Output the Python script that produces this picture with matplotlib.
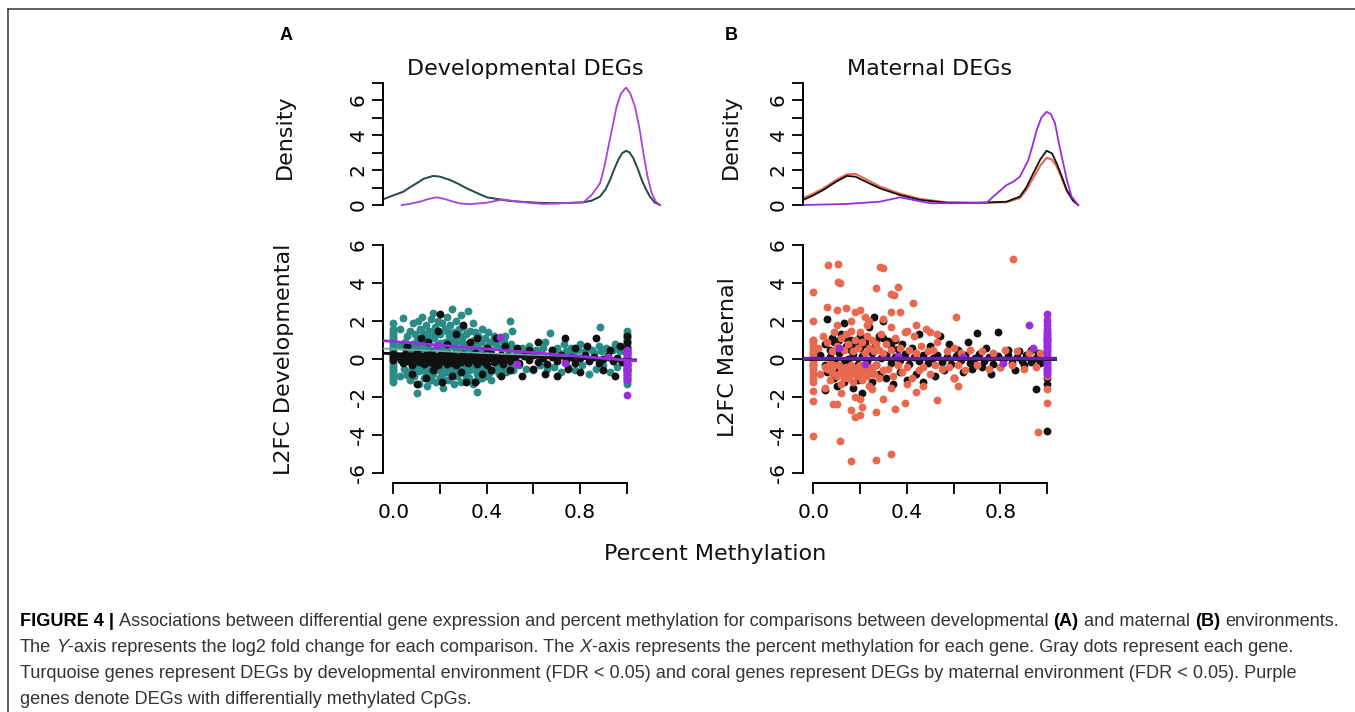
import matplotlib
matplotlib.use("Agg")
import matplotlib.pyplot as plt
from matplotlib import font_manager
from matplotlib.lines import Line2D

# ---------------- data ----------------
# density curves (x = percent methylation, y = density)
dens_a_dark_x = [-0.043, 0.0, 0.043, 0.07, 0.1, 0.13, 0.171, 0.2, 0.243, 0.28, 0.315, 0.4, 0.5, 0.615, 0.7,
                 0.814, 0.85, 0.886, 0.91, 0.929, 0.947, 0.964, 0.98, 0.997, 1.013, 1.029, 1.047, 1.065,
                 1.083, 1.1, 1.12, 1.143]
dens_a_dark_y = [0.33, 0.55, 0.76, 1.0, 1.24, 1.5, 1.66, 1.62, 1.43, 1.2, 0.95, 0.44, 0.23, 0.13, 0.1,
                 0.15, 0.25, 0.48, 0.9, 1.43, 2.05, 2.57, 2.95, 3.1, 3.0, 2.67, 2.1, 1.43,
                 0.9, 0.48, 0.15, 0.0]
dens_a_purple_x = [0.036, 0.07, 0.114, 0.15, 0.186, 0.22, 0.257, 0.29, 0.329, 0.4, 0.471, 0.543, 0.643,
                   0.729, 0.814, 0.85, 0.886, 0.905, 0.922, 0.94, 0.957, 0.975, 0.997, 1.015, 1.036, 1.055,
                   1.072, 1.09, 1.108, 1.125, 1.143]
dens_a_purple_y = [0.0, 0.06, 0.19, 0.34, 0.44, 0.34, 0.19, 0.08, 0.05, 0.13, 0.32, 0.17, 0.06,
                   0.1, 0.15, 0.57, 1.24, 2.2, 3.33, 4.5, 5.62, 6.35, 6.71, 6.4, 5.62, 4.4,
                   2.95, 1.6, 0.67, 0.2, 0.0]

dens_b_x = [-0.043, 0.0, 0.043, 0.1, 0.143, 0.18, 0.214, 0.25, 0.285, 0.37, 0.456, 0.57, 0.712, 0.826,
            0.883, 0.91, 0.94, 0.97, 0.997, 1.02, 1.04, 1.06, 1.083, 1.11, 1.132]
dens_b_black_y = [0.29, 0.55, 0.86, 1.35, 1.66, 1.62, 1.4, 1.17, 0.95, 0.57, 0.29, 0.13, 0.13, 0.19,
                  0.48, 1.0, 1.81, 2.6, 3.1, 2.95, 2.38, 1.7, 0.86, 0.25, 0.0]
dens_b_coral_y = [0.4, 0.65, 0.95, 1.45, 1.75, 1.78, 1.55, 1.3, 1.05, 0.65, 0.35, 0.15, 0.12, 0.16,
                  0.4, 0.85, 1.55, 2.25, 2.7, 2.6, 2.2, 1.6, 0.8, 0.25, 0.0]
dens_b_purple_x = [-0.043, 0.143, 0.285, 0.37, 0.427, 0.499, 0.598, 0.741, 0.769, 0.826, 0.855, 0.883,
                   0.919, 0.937, 0.955, 0.975, 0.997, 1.015, 1.033, 1.05, 1.068, 1.086, 1.104, 1.132]
dens_b_purple_y = [0.0, 0.06, 0.19, 0.44, 0.29, 0.1, 0.1, 0.13, 0.48, 1.14, 1.33, 1.62,
                   2.57, 3.4, 4.29, 5.0, 5.33, 5.2, 4.67, 3.5, 2.38, 1.3, 0.48, 0.0]

# panel A scatter: (percent methylation, L2FC developmental)
teal_a = [(0.03, 1.6), (0.03, -0.9), (0.03, 0.7), (0.043, 2.14), (0.045, -0.5), (0.05, 0.9),
          (0.06, 1.2), (0.06, -0.7), (0.065, 0.5), (0.07, -1.1), (0.07, 1.5), (0.08, 0.8), (0.08, -0.4),
          (0.085, 1.9), (0.09, -0.9), (0.09, 0.6), (0.095, 1.3), (0.10, -1.77), (0.10, 1.0), (0.10, -0.6),
          (0.105, 2.0), (0.11, 0.4), (0.11, -1.3), (0.115, 1.6), (0.12, -0.5), (0.12, 0.9), (0.125, 2.2),
          (0.13, -1.0), (0.13, 1.3), (0.135, 0.6), (0.14, -0.7), (0.14, 1.8), (0.145, -1.4), (0.15, 0.8),
          (0.15, -0.4), (0.155, 1.5), (0.16, -1.1), (0.16, 2.1), (0.165, 0.5), (0.17, 2.44), (0.17, -0.8),
          (0.175, 1.1), (0.18, -0.5), (0.18, 1.7), (0.185, -1.2), (0.19, 0.7), (0.19, 2.0), (0.195, -0.6),
          (0.2, 1.3), (0.2, -1.0), (0.205, 0.5), (0.21, 1.9), (0.21, -0.4), (0.215, -1.5), (0.22, 0.9),
          (0.22, 1.6), (0.225, -0.7), (0.23, 2.2), (0.23, 0.4), (0.235, -1.1), (0.24, 1.2), (0.24, -0.5),
          (0.245, 1.8), (0.25, 2.63), (0.25, -0.8), (0.255, 0.7), (0.26, 1.4), (0.26, -1.3), (0.265, -0.4),
          (0.27, 2.0), (0.27, 0.9), (0.275, -0.9), (0.28, 1.6), (0.28, -0.6), (0.285, 0.5), (0.29, 2.3),
          (0.29, -1.2), (0.295, 1.1), (0.3, -0.5), (0.3, 1.7), (0.305, 0.6), (0.31, -0.9), (0.31, 1.3),
          (0.315, -0.4), (0.32, 2.52), (0.32, 0.8), (0.325, -1.0), (0.33, 1.5), (0.33, -0.6), (0.335, 0.5),
          (0.34, 1.9), (0.34, -1.3), (0.345, 1.0), (0.35, -0.5), (0.35, 1.4), (0.357, -1.72), (0.36, 0.7),
          (0.36, -0.8), (0.365, 1.2), (0.37, -0.4), (0.375, 0.9), (0.38, 1.6), (0.38, -1.0), (0.385, 0.5),
          (0.39, -0.6), (0.395, 1.1), (0.4, -0.9), (0.4, 0.7), (0.405, 1.4), (0.41, -0.5), (0.415, 0.9),
          (0.42, -1.1), (0.42, 0.5), (0.43, 1.2), (0.43, -0.6), (0.44, 0.8), (0.445, -0.4), (0.45, 1.0),
          (0.455, -0.8), (0.46, 0.6), (0.47, -0.5), (0.475, 0.9), (0.48, 1.2), (0.485, -0.7), (0.49, 0.5),
          (0.5, 2.0), (0.5, -0.4), (0.505, 0.8), (0.51, 1.5), (0.515, -0.6), (0.52, 0.5), (0.53, 0.3),
          (0.54, -0.3), (0.55, 0.6), (0.56, 0.4), (0.57, -0.5), (0.58, 0.7), (0.59, 0.3), (0.6, -0.6),
          (0.61, 0.5), (0.62, 0.4), (0.63, -0.3), (0.64, 0.6), (0.65, 0.9), (0.66, -0.5), (0.67, 1.37),
          (0.68, 0.5), (0.69, -0.4), (0.7, 0.6), (0.71, 0.3), (0.72, -0.7), (0.73, 0.8), (0.74, 0.4),
          (0.75, -0.4), (0.76, 0.6), (0.77, 0.3), (0.78, -0.6), (0.79, 0.5), (0.8, 0.8), (0.81, -0.3),
          (0.82, 0.4), (0.83, 0.6), (0.84, -0.8), (0.85, 0.5), (0.86, 0.3), (0.87, -0.5), (0.88, 0.7),
          (0.886, 1.67), (0.89, 0.4), (0.9, -0.3), (0.91, 0.6), (0.92, 0.3), (0.93, -0.7), (0.94, 0.5),
          (0.95, 0.8), (0.96, -0.4), (0.97, 0.4), (0.98, 0.6),
          (0.07, 0.35), (0.12, 0.45), (0.17, 0.35), (0.22, 0.55), (0.27, 0.4), (0.32, 0.45), (0.37, 0.35),
          (0.09, -0.35), (0.14, -0.45), (0.19, -0.35), (0.24, -0.4), (0.29, -0.35), (0.34, -0.4), (0.39, -0.35),
          (0.05, 0.6), (0.1, 0.75), (0.15, 1.15), (0.2, 0.85), (0.25, 1.05), (0.3, 0.85), (0.35, 0.65),
          (0.06, -0.85), (0.11, -0.65), (0.16, -0.75), (0.21, -0.85), (0.26, -0.6), (0.31, -0.65),
          (0.36, -1.1), (0.41, -0.75), (0.46, -0.45), (0.12, 1.55), (0.18, 1.3), (0.23, 1.45), (0.28, 1.25)]
teal_a_col0 = [-1.2, -1.1, -1.0, -0.9, -0.8, -0.7, -0.6, -0.5, -0.4, -0.3, -0.2, -0.1, 0.0, 0.1, 0.2,
               0.3, 0.4, 0.5, 0.6, 0.7, 0.8, 0.9, 1.0, 1.1, 1.2, 1.3, 1.4, 1.6, 1.9]
teal_a_col1 = [-1.3, -1.2, -1.1, -1.0, -0.9, -0.8, -0.7, -0.6, -0.5, -0.4, -0.3, -0.2, -0.1, 0.0, 0.1,
               0.2, 0.3, 0.4, 0.5, 0.6, 0.7, 0.8, 0.9, 1.0, 1.1, 1.2, 1.3, 1.5]
black_a = [(0.03, 0.1), (0.04, -0.2), (0.05, 0.25), (0.06, -0.1), (0.07, 0.15), (0.08, -0.3), (0.09, 0.05),
           (0.1, 0.3), (0.11, -0.15), (0.12, 0.1), (0.13, -0.25), (0.14, 0.2), (0.15, -0.05), (0.16, 0.3),
           (0.17, -0.2), (0.18, 0.1), (0.19, -0.3), (0.2, 0.2), (0.21, -0.1), (0.22, 0.05), (0.23, -0.25),
           (0.24, 0.25), (0.25, -0.05), (0.26, 0.15), (0.27, -0.3), (0.28, 0.1), (0.29, -0.15), (0.3, 0.25),
           (0.31, 0.0), (0.32, -0.2), (0.33, 0.15), (0.34, -0.05), (0.35, 0.3), (0.36, -0.25), (0.37, 0.1),
           (0.38, -0.1), (0.39, 0.2), (0.4, -0.3), (0.41, 0.05), (0.42, 0.25), (0.43, -0.15), (0.44, 0.1),
           (0.45, -0.05), (0.46, 0.2), (0.47, -0.25), (0.48, 0.0), (0.49, 0.15), (0.5, -0.1), (0.52, 0.1),
           (0.54, -0.2), (0.56, 0.15), (0.58, -0.05), (0.6, 0.2), (0.62, -0.15), (0.64, 0.05), (0.66, -0.25),
           (0.68, 0.1), (0.7, -0.1), (0.72, 0.2), (0.74, -0.05), (0.76, 0.1), (0.78, -0.2), (0.8, 0.05),
           (0.82, 0.2), (0.84, -0.1), (0.86, 0.1), (0.88, -0.2), (0.9, 0.0), (0.92, 0.15), (0.94, -0.1),
           (0.96, 0.05), (0.98, -0.15),
           (0.035, -0.05), (0.055, 0.05), (0.075, -0.15), (0.095, 0.2), (0.115, 0.0), (0.135, 0.1),
           (0.155, -0.15), (0.175, 0.15), (0.195, 0.0), (0.215, 0.2), (0.235, 0.0), (0.255, -0.2),
           (0.275, 0.05), (0.295, 0.15), (0.315, -0.1), (0.335, 0.05), (0.355, 0.1), (0.375, -0.05),
           (0.395, -0.15), (0.415, 0.15), (0.435, 0.0), (0.455, 0.1),
           (0.06, 0.7), (0.08, -0.8), (0.1, -1.3), (0.12, 1.1), (0.14, -1.0), (0.15, 0.9), (0.17, -0.6),
           (0.19, 1.5), (0.2, 2.35), (0.21, -1.2), (0.23, 0.8), (0.25, -0.9), (0.27, 1.3), (0.29, -0.7),
           (0.3, 1.8), (0.31, -1.2), (0.33, 0.9), (0.35, -1.2), (0.36, 1.1), (0.38, -0.8), (0.4, 0.6),
           (0.42, -0.6), (0.44, 1.1), (0.46, -0.9), (0.48, 0.7), (0.5, -0.6), (0.53, 0.6), (0.55, -0.9),
           (0.58, 0.5), (0.6, -0.5), (0.62, 0.9), (0.65, -0.8), (0.68, 0.5), (0.7, -0.9), (0.736, 1.12),
           (0.75, -0.5), (0.78, 0.6), (0.8, -0.7), (0.83, 0.7), (0.87, 1.1), (0.9, -0.6), (0.93, 0.5),
           (0.95, -0.9), (0.97, 0.7),
           (0.0, 0.25), (0.0, 0.1), (0.0, -0.05),
           (1.0, 1.2), (1.0, 0.9), (1.0, 0.6), (1.0, 0.3), (1.0, 0.0), (1.0, -0.3), (1.0, -0.6)]
purple_a = [(0.186, 0.74), (0.457, 1.17), (0.53, -0.26), (0.736, -0.2), (0.92, 0.1), (1.0, -1.9)]
purple_a_col1 = [-1.1, -1.0, -0.9, -0.8, -0.7, -0.6, -0.5, -0.4, -0.3, -0.2, -0.1, 0.0, 0.1, 0.2, 0.3, 0.4, 0.5]
# fitted lines, value at left and right plot edge
line_a_teal = [0.55, -0.05]
line_a_black = [0.3, -0.05]
line_a_purple = [0.96, -0.1]

# panel B scatter: (percent methylation, L2FC maternal)
coral_b = [(0.064, 4.95), (0.107, 5.0), (0.114, 3.98), (0.105, 4.05), (0.0, 3.54), (0.285, 4.86), (0.3, 4.8),
           (0.27, 3.75), (0.363, 3.8), (0.33, 3.4), (0.345, 3.35), (0.424, 2.93), (0.855, 5.26), (0.61, 2.2),
           (0.06, 2.75), (0.1, 2.6), (0.14, 2.7), (0.18, 2.45), (0.2, 2.6), (0.22, 2.2), (0.24, 2.0),
           (0.3, 2.1), (0.33, 2.45), (0.0, 2.0), (0.0, 1.0),
           (0.0, -1.7), (0.0, -2.2), (0.0, -4.05), (0.085, -2.35), (0.1, -2.35), (0.114, -4.3), (0.16, -2.7),
           (0.18, -3.05), (0.2, -2.95), (0.21, -2.5), (0.2, -2.1), (0.16, -5.35), (0.27, -5.3), (0.33, -5.0),
           (0.27, -2.8), (0.35, -2.65), (0.39, -2.3), (0.44, -1.75), (0.53, -2.15), (0.96, -3.85),
           (1.0, -2.3), (1.0, -1.6),
           (0.02, 0.6), (0.03, -0.8), (0.04, 1.2), (0.05, -0.4), (0.06, 0.9), (0.07, -1.1), (0.08, 0.4),
           (0.08, -0.6), (0.09, 1.4), (0.1, -0.9), (0.1, 0.7), (0.11, -0.3), (0.12, 1.1), (0.12, -1.3),
           (0.13, 0.5), (0.13, -0.7), (0.14, 1.3), (0.14, -0.4), (0.15, 0.8), (0.15, -1.0), (0.16, 1.5),
           (0.16, -0.6), (0.17, 0.4), (0.17, -1.2), (0.18, 1.0), (0.18, -0.5), (0.19, 0.6), (0.19, -0.9),
           (0.2, 1.4), (0.2, -0.3), (0.21, 0.9), (0.21, -1.1), (0.22, 0.3), (0.22, -0.7), (0.23, 1.2),
           (0.23, -0.5), (0.24, 0.6), (0.24, -1.4), (0.25, 1.0), (0.25, -0.4), (0.26, 0.4), (0.26, -0.8),
           (0.27, 0.8), (0.27, -0.3), (0.28, 0.5), (0.28, -1.0), (0.29, 1.3), (0.3, -0.6), (0.3, 0.3),
           (0.31, 0.8), (0.32, -0.5), (0.33, 0.5), (0.34, -0.9), (0.35, 1.1), (0.36, -0.3), (0.37, 0.6),
           (0.38, -0.7), (0.39, 1.4), (0.4, -0.4), (0.41, 0.5), (0.42, -1.0), (0.43, 1.2), (0.44, 0.3),
           (0.45, -0.6), (0.46, 0.7), (0.47, -0.4), (0.48, 1.6), (0.49, 0.4), (0.5, -0.8), (0.51, 0.5),
           (0.52, -0.3), (0.53, 0.9), (0.55, -0.5), (0.57, 0.4), (0.58, -0.4), (0.6, 0.6), (0.62, -0.3),
           (0.63, 0.3), (0.65, -0.6), (0.67, 0.5), (0.7, -0.3), (0.72, 0.4), (0.75, -0.5), (0.77, 0.3),
           (0.8, -0.4), (0.82, 0.5), (0.85, -0.3), (0.87, 0.4), (0.9, -0.5), (0.92, 0.3), (0.95, -0.4),
           (0.97, 0.3),
           (0.06, -0.5), (0.09, -0.3), (0.11, -0.8), (0.13, -1.0), (0.15, -0.6), (0.17, -0.8), (0.19, -0.4),
           (0.21, -0.6), (0.23, -0.9), (0.25, -0.7), (0.07, -0.2), (0.16, -0.3), (0.2, -0.8),
           (0.08, -0.75), (0.12, -0.45), (0.14, -0.85), (0.18, -0.65), (0.22, -0.45), (0.24, -0.75),
           (0.1, 1.8), (0.16, 2.0), (0.23, 1.8), (0.33, 1.7), (0.4, 1.5), (0.44, 1.8), (0.5, 1.4),
           (0.53, 1.3), (0.37, 2.45),
           (0.05, -1.5), (0.12, -1.8), (0.18, -2.0), (0.25, -1.6), (0.3, -2.1), (0.33, -1.5), (0.4, -1.3),
           (0.47, -1.4), (0.6, -1.0), (0.62, -1.4),
           (1.0, 2.1), (1.0, 1.1), (1.0, 0.7), (1.0, -0.9)]
coral_b_col0 = [-1.2, -1.05, -0.9, -0.75, -0.6, -0.45, -0.3, -0.15, 0.0, 0.15, 0.3, 0.45, 0.6, 0.75, 0.9, 1.0]
black_b = [(0.03, 0.2), (0.05, -0.3), (0.07, 0.1), (0.09, -0.1), (0.11, 0.3), (0.13, -0.2), (0.15, 0.0),
           (0.17, 0.25), (0.19, -0.25), (0.21, 0.15), (0.23, -0.1), (0.25, 0.3), (0.27, -0.3), (0.29, 0.05),
           (0.31, 0.2), (0.33, -0.2), (0.35, 0.1), (0.37, -0.05), (0.39, 0.25), (0.41, -0.25), (0.43, 0.1),
           (0.45, -0.1), (0.47, 0.2), (0.49, -0.2), (0.51, 0.05), (0.53, 0.2), (0.55, -0.15), (0.57, 0.1),
           (0.59, -0.25), (0.61, 0.15), (0.63, -0.05), (0.65, 0.2), (0.67, -0.2), (0.69, 0.05), (0.71, 0.25),
           (0.73, -0.1), (0.75, 0.1), (0.77, -0.25), (0.79, 0.15), (0.81, -0.05), (0.83, 0.2), (0.85, -0.2),
           (0.87, 0.1), (0.89, -0.1), (0.91, 0.2), (0.93, -0.15), (0.95, 0.05), (0.97, -0.2),
           (0.05, 0.8), (0.06, -0.7), (0.08, 1.1), (0.09, -1.0), (0.1, 0.5), (0.11, -0.6), (0.12, 1.3),
           (0.13, -1.2), (0.14, 0.7), (0.15, -0.8), (0.16, 1.0), (0.17, -1.5), (0.18, 0.6), (0.19, -1.1),
           (0.2, 1.2), (0.21, -1.8), (0.22, 0.8), (0.23, -0.6), (0.24, 1.7), (0.25, -1.2), (0.26, 2.2),
           (0.27, 0.9), (0.28, -0.8), (0.3, 2.0), (0.3, 1.1), (0.31, -1.0), (0.33, 0.7), (0.34, -1.3),
           (0.35, 1.0), (0.37, -0.7), (0.38, 0.8), (0.4, -1.1), (0.42, 0.6), (0.44, -0.8), (0.45, 1.3),
           (0.47, -1.2), (0.5, 0.7), (0.52, -0.9), (0.54, 1.2), (0.56, -0.6), (0.58, 0.8), (0.6, -1.0),
           (0.62, 0.5), (0.64, -0.7), (0.66, 0.9), (0.68, -0.5), (0.7, 1.35), (0.72, -0.4), (0.74, 0.6),
           (0.76, -0.8), (0.79, 1.4), (0.8, -0.4), (0.83, 0.5), (0.86, -0.6), (0.88, 0.4), (0.9, -0.3),
           (0.93, 0.5), (0.95, -1.6), (0.96, 0.3), (0.06, 2.1), (0.13, 1.9), (0.05, -1.65), (0.1, -1.4),
           (0.07, 0.5), (0.09, 0.9), (0.11, 1.0), (0.14, 1.1), (0.16, 0.5), (0.18, 0.85), (0.2, 0.6),
           (0.22, 1.05), (0.26, 0.65), (0.28, 1.2), (0.32, 0.95), (0.36, 0.55),
           (0.0, 0.3), (0.0, -0.3),
           (1.0, 1.3), (1.0, 1.0), (1.0, -1.0), (1.0, -1.3), (1.0, -3.8)]
purple_b = [(0.92, 1.8), (1.0, 2.35), (0.94, 0.6), (0.11, 0.6), (0.22, -0.25), (0.36, 0.15), (0.64, 0.1),
            (0.81, -0.2)]
purple_b_col1 = [-0.8, -0.7, -0.6, -0.5, -0.4, -0.3, -0.2, -0.1, 0.0, 0.1, 0.2, 0.3, 0.4, 0.5, 0.6, 0.7,
                 0.8, 0.9, 1.0, 1.1, 1.2, 1.4, 1.6, 1.8, 2.0]
line_b_black = [0.02, 0.02]
line_b_purple = [0.06, 0.06]

x_ticks = [0.0, 0.2, 0.4, 0.6, 0.8, 1.0]
x_labels = ["0.0", "", "0.4", "", "0.8", ""]
y_ticks = [-6, -4, -2, 0, 2, 4, 6]
y_labels = ["-6", "-4", "-2", "0", "2", "4", "6"]
d_ticks = [0, 1, 2, 3, 4, 5, 6, 7]
d_labels = ["0", "", "2", "", "4", "", "6", ""]

caption_lines = [
    [("FIGURE 4 |", "bold", "normal"),
     (" Associations between differential gene expression and percent methylation for comparisons between developmental ", "normal", "normal"),
     ("(A)", "bold", "normal"), (" and maternal ", "normal", "normal"), ("(B)", "bold", "normal"),
     (" environments.", "normal", "normal")],
    [("The ", "normal", "normal"), ("Y", "normal", "italic"),
     ("-axis represents the log2 fold change for each comparison. The ", "normal", "normal"),
     ("X", "normal", "italic"),
     ("-axis represents the percent methylation for each gene. Gray dots represent each gene.", "normal", "normal")],
    [("Turquoise genes represent DEGs by developmental environment (FDR < 0.05) and coral genes represent DEGs by maternal environment (FDR < 0.05). Purple", "normal", "normal")],
    [("genes denote DEGs with differentially methylated CpGs.", "normal", "normal")],
]

# ---------------- style ----------------
TEAL = "#2b8b87"
BLACK = "#111111"
CORAL = "#e8694f"
PURPLE = "#9a2de0"

W, H = 1355, 712
plt.rcParams["font.family"] = ["DejaVu Sans"]
fig = plt.figure(figsize=(W / 100, H / 100), dpi=100)


def axes_px(x0, xpu, xlim, y0, ypu, ylim):
    left = x0 + xlim[0] * xpu
    right = x0 + xlim[1] * xpu
    top = y0 - ylim[1] * ypu
    bottom = y0 - ylim[0] * ypu
    ax = fig.add_axes([left / W, 1 - bottom / H, (right - left) / W, (bottom - top) / H])
    ax.set_xlim(xlim)
    ax.set_ylim(ylim)
    ax.patch.set_alpha(0)
    return ax


def style_axes(ax, show_x):
    for s in ["top", "right"]:
        ax.spines[s].set_visible(False)
    ax.spines["left"].set_linewidth(1.4)
    ax.spines["bottom"].set_linewidth(1.4)
    ax.tick_params(direction="out", length=8, width=1.4, labelsize=14.5, color="#111111")
    ax.tick_params(axis="y", pad=3)
    ax.tick_params(axis="x", pad=6)
    if not show_x:
        ax.spines["bottom"].set_visible(False)
        ax.set_xticks([])


PT_SIZE = 32


def scatter_pts(ax, pts, color):
    ax.scatter([p[0] for p in pts], [p[1] for p in pts], s=PT_SIZE, color=color, linewidths=0, zorder=3)


def column(ax, xval, ys, color):
    ax.scatter([xval] * len(ys), ys, s=PT_SIZE, color=color, linewidths=0, zorder=3)


# density A
da = axes_px(393.3, 233.3, (-0.043, 1.15), 205, 17.5, (-0.15, 7.3))
style_axes(da, False)
da.spines["left"].set_bounds(0, 7)
da.set_yticks(d_ticks)
da.set_yticklabels(d_labels, rotation=90, va="center")
da.plot(dens_a_dark_x, dens_a_dark_y, color=BLACK, lw=1.3)
da.plot(dens_a_dark_x, dens_a_dark_y, color=TEAL, lw=1.1, alpha=0.55)
da.plot(dens_a_purple_x, dens_a_purple_y, color="#a843dc", lw=1.3)

# density B
db = axes_px(813.3, 234, (-0.043, 1.15), 205, 17.5, (-0.15, 7.3))
style_axes(db, False)
db.spines["left"].set_bounds(0, 7)
db.set_yticks(d_ticks)
db.set_yticklabels(d_labels, rotation=90, va="center")
db.plot(dens_b_x, dens_b_coral_y, color=CORAL, lw=1.5)
db.plot(dens_b_x, dens_b_black_y, color=BLACK, lw=1.3)
db.plot(dens_b_purple_x, dens_b_purple_y, color=PURPLE, lw=1.3)

# scatter A
sa = axes_px(393.3, 233.3, (-0.043, 1.043), 359, 19, (-6.54, 6.54))
style_axes(sa, True)
sa.spines["left"].set_bounds(-6, 6)
sa.spines["bottom"].set_bounds(0, 1)
sa.set_xticks(x_ticks)
sa.set_xticklabels(x_labels)
sa.set_yticks(y_ticks)
sa.set_yticklabels(y_labels, rotation=90, va="center")
column(sa, 0.0, teal_a_col0, TEAL)
column(sa, 1.0, teal_a_col1, TEAL)
scatter_pts(sa, teal_a, TEAL)
scatter_pts(sa, black_a, BLACK)
scatter_pts(sa, purple_a, PURPLE)
column(sa, 1.0, purple_a_col1, PURPLE)
ends = [-0.043, 1.043]
sa.plot(ends, line_a_teal, color="#6fa9a6", lw=1.2, zorder=4)
sa.plot(ends, line_a_black, color=BLACK, lw=2.0, zorder=4)
sa.plot(ends, line_a_purple, color=PURPLE, lw=2.0, zorder=4)

# scatter B
sb = axes_px(813.3, 234, (-0.043, 1.043), 359, 19, (-6.54, 6.54))
style_axes(sb, True)
sb.spines["left"].set_bounds(-6, 6)
sb.spines["bottom"].set_bounds(0, 1)
sb.set_xticks(x_ticks)
sb.set_xticklabels(x_labels)
sb.set_yticks(y_ticks)
sb.set_yticklabels(y_labels, rotation=90, va="center")
scatter_pts(sb, black_b, BLACK)
column(sb, 0.0, coral_b_col0, CORAL)
scatter_pts(sb, coral_b, CORAL)
scatter_pts(sb, purple_b, PURPLE)
column(sb, 1.0, purple_b_col1, PURPLE)
sb.plot(ends, line_b_black, color=BLACK, lw=2.0, zorder=4)
sb.plot(ends, line_b_purple, color="#6a1fa8", lw=2.4, zorder=4)


def ftext(px, py, s, **kw):
    return fig.text(px / W, 1 - py / H, s, **kw)


# titles and labels
ftext(525, 69, "Developmental DEGs", fontsize=16, ha="center", va="center", color="#111111")
ftext(930, 69, "Maternal DEGs", fontsize=16, ha="center", va="center", color="#111111")
ftext(285, 137, "Density", fontsize=16, rotation=90, ha="center", va="center", color="#111111")
ftext(731, 137, "Density", fontsize=16, rotation=90, ha="center", va="center", color="#111111")
ftext(284, 359, "L2FC Developmental", fontsize=16, rotation=90, ha="center", va="center", color="#111111")
ftext(728, 357, "L2FC Maternal", fontsize=16, rotation=90, ha="center", va="center", color="#111111")
ftext(715, 554, "Percent Methylation", fontsize=16, ha="center", va="center", color="#111111")
ftext(286, 35, "A", fontsize=13, fontweight="bold", ha="center", va="center", family="Liberation Sans")
ftext(731, 35, "B", fontsize=13, fontweight="bold", ha="center", va="center", family="Liberation Sans")

# frame of the figure panel
fig.add_artist(Line2D([8 / W, 1], [1 - 8.5 / H, 1 - 8.5 / H], transform=fig.transFigure, color="#444444", lw=1.2))
fig.add_artist(Line2D([8.3 / W, 8.3 / W], [0, 1 - 8.5 / H], transform=fig.transFigure, color="#444444", lw=1.2))

# caption
names = {f.name for f in font_manager.fontManager.ttflist}
cap_family = "Liberation Sans Narrow" if "Liberation Sans Narrow" in names else "Liberation Sans"
renderer = fig.canvas.get_renderer()


def text_w(s, size, weight="normal", style="normal"):
    t = fig.text(0, 0, s, fontsize=size, fontweight=weight, fontstyle=style, family=cap_family)
    w = t.get_window_extent(renderer).width
    t.remove()
    return w


def line_width(runs, size):
    sp = text_w("a a", size) - text_w("aa", size)
    total = 0
    for s, wgt, sty in runs:
        core = s.strip(" ")
        n_sp = len(s) - len(s.lstrip(" ")) + len(s) - len(s.rstrip(" "))
        total += text_w(core, size, wgt, sty) + n_sp * sp
    return total


cap_size = 10 * (1326 / line_width(caption_lines[0], 10))
space_w = text_w("a a", cap_size) - text_w("aa", cap_size)
cap_y = [621, 647, 673, 699]
for runs, py in zip(caption_lines, cap_y):
    x = 20.0
    for s, wgt, sty in runs:
        lead = len(s) - len(s.lstrip(" "))
        trail = len(s) - len(s.rstrip(" "))
        core = s.strip(" ")
        x += lead * space_w
        col = "#000000" if wgt == "bold" else "#333333"
        t = ftext(x, py, core, fontsize=cap_size, fontweight=wgt, fontstyle=sty, family=cap_family,
                  va="center", ha="left", color=col)
        x += t.get_window_extent(renderer).width + trail * space_w

fig.savefig("out.png", dpi=100)
